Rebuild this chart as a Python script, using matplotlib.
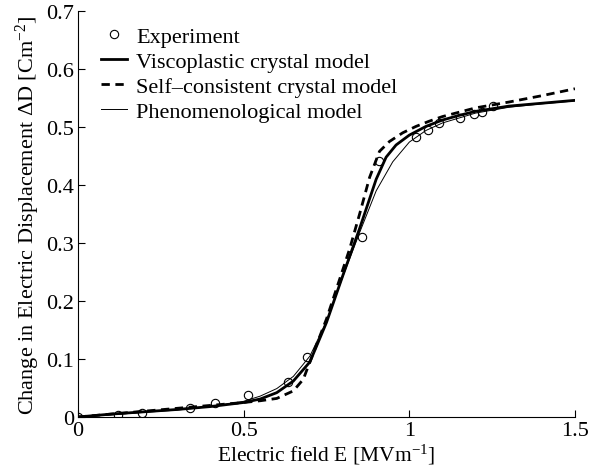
import matplotlib
matplotlib.use('Agg')
import matplotlib.pyplot as plt

plt.rcParams['font.family'] = ['Liberation Serif', 'DejaVu Serif']
plt.rcParams['mathtext.fontset'] = 'custom'
plt.rcParams['mathtext.rm'] = 'Liberation Serif'
plt.rcParams['mathtext.it'] = 'Liberation Serif:italic'

# experiment points
exp_x = [0.0, 0.121, 0.193, 0.338, 0.414, 0.514, 0.633, 0.692, 0.858, 0.909,
         1.021, 1.055, 1.090, 1.153, 1.195, 1.218, 1.252]
exp_y = [0.0, 0.003, 0.007, 0.016, 0.024, 0.038, 0.060, 0.103, 0.311, 0.441,
         0.482, 0.495, 0.507, 0.515, 0.522, 0.526, 0.536]

# viscoplastic crystal model
visc_x = [0, 0.1, 0.2, 0.3, 0.4, 0.5, 0.55, 0.6, 0.65, 0.7, 0.75, 0.8, 0.85,
          0.9, 0.93, 0.96, 1.0, 1.05, 1.1, 1.15, 1.2, 1.3, 1.4, 1.5]
visc_y = [0, 0.005, 0.009, 0.013, 0.018, 0.025, 0.031, 0.042, 0.062, 0.095,
          0.163, 0.245, 0.325, 0.410, 0.448, 0.469, 0.486, 0.501, 0.512,
          0.520, 0.527, 0.536, 0.541, 0.546]

# self-consistent crystal model
self_x = [0, 0.1, 0.2, 0.3, 0.4, 0.5, 0.55, 0.6, 0.65, 0.68, 0.7, 0.75, 0.79,
          0.82, 0.85, 0.88, 0.91, 0.94, 0.98, 1.02, 1.06, 1.1, 1.2, 1.3,
          1.4, 1.5]
self_y = [0, 0.005, 0.010, 0.015, 0.020, 0.025, 0.028, 0.032, 0.045, 0.065,
          0.095, 0.169, 0.238, 0.290, 0.350, 0.413, 0.458, 0.475, 0.490,
          0.501, 0.510, 0.518, 0.533, 0.543, 0.554, 0.566]

# phenomenological model
phen_x = [0, 0.1, 0.2, 0.3, 0.4, 0.5, 0.55, 0.6, 0.65, 0.7, 0.75, 0.8, 0.85,
          0.9, 0.95, 1.0, 1.05, 1.1, 1.2, 1.3, 1.4, 1.5]
phen_y = [0, 0.004, 0.008, 0.012, 0.018, 0.027, 0.036, 0.049, 0.070, 0.105,
          0.165, 0.243, 0.318, 0.390, 0.440, 0.474, 0.494, 0.507, 0.524,
          0.534, 0.540, 0.545]

fig = plt.figure(figsize=(5.89, 4.77), dpi=100)
ax = fig.add_axes([0.1324, 0.1237, 0.8438, 0.8511])

ax.plot(exp_x, exp_y, 'o', mfc='none', mec='black', ms=6, mew=0.8,
        label='Experiment')
ax.plot(visc_x, visc_y, '-', color='black', lw=2.0,
        label='Viscoplastic crystal model')
ax.plot(self_x, self_y, '--', color='black', lw=2.0, dashes=(3, 2),
        label='Self\u2013consistent crystal model')
ax.plot(phen_x, phen_y, '-', color='black', lw=0.7,
        label='Phenomenological model')

ax.set_xlim(0, 1.5)
ax.set_ylim(0, 0.7)
ax.set_xticks([0, 0.5, 1, 1.5])
ax.set_xticklabels(['0', '0.5', '1', '1.5'])
ax.set_yticks([0, 0.1, 0.2, 0.3, 0.4, 0.5, 0.6, 0.7])
ax.set_yticklabels(['0', '0.1', '0.2', '0.3', '0.4', '0.5', '0.6', '0.7'])
ax.tick_params(direction='in', length=5, labelsize=16, width=0.8, pad=3)
ax.spines['top'].set_visible(False)
ax.spines['right'].set_visible(False)

ax.set_xlabel('Electric field E [MVm$^{-1}$]', fontsize=15.5, labelpad=1)
ax.set_ylabel('Change in Electric Displacement \u0394D [Cm$^{-2}$]',
              fontsize=16, labelpad=3)

ax.legend(loc='upper left', frameon=False, fontsize=16, handlelength=1.2,
          handletextpad=0.4, labelspacing=0.2, borderaxespad=0.0,
          bbox_to_anchor=(0.028, 0.985))

fig.savefig('out.png', dpi=100)
